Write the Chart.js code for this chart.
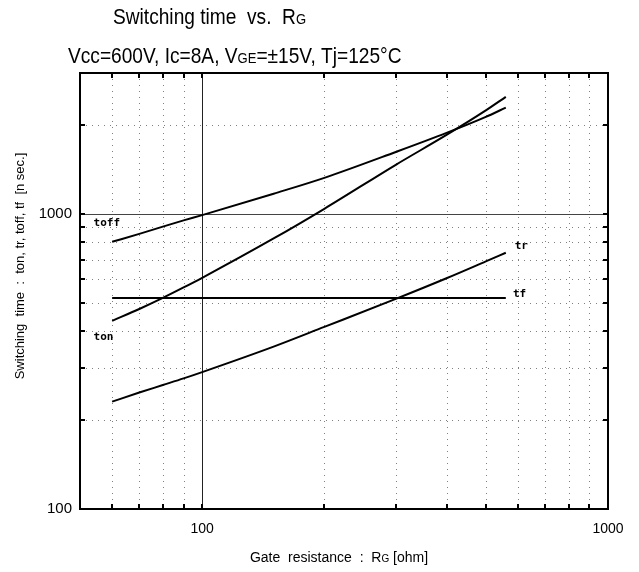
<!DOCTYPE html>
<html>
<head>
<meta charset="utf-8">
<script src="https://cdn.jsdelivr.net/npm/chart.js@4.4.1/dist/chart.umd.min.js"></script>
<style>
  html, body { margin: 0; padding: 0; background: #fff; }
  #wrap { width: 639px; height: 572px; }
</style>
</head>
<body>
<div id="wrap"><canvas id="rg-chart" width="639" height="572"></canvas></div>
<script>
// gate resistance [ohm] and switching times [ns]
const resistance = [60, 70, 80, 90, 100, 150, 200, 300, 400, 500, 560];
const tonValues  = [434, 476, 519, 563, 607, 825, 1040, 1466, 1850, 2240, 2490];
const toffValues = [804, 855, 905, 950, 990, 1170, 1324, 1620, 1880, 2130, 2290];
const trValues   = [231, 248, 263, 277, 291, 355, 414, 515, 605, 690, 738];
const tfValues   = [519, 519, 519, 519, 519, 519, 519, 519, 519, 519, 519];

const xTickLabels = [100, 1000];
const yTickLabels = [100, 1000];
const xGridValues = [60, 70, 80, 90, 200, 300, 400, 500, 600, 700, 800, 900];
const yGridValues = [200, 300, 400, 500, 600, 700, 800, 900, 2000];

// curve name tags: [text, x, y] in data units
const curveTags = [
    ['toff', 54, 932],
    ['ton', 54, 383],
    ['tr', 589, 779],
    ['tf', 583, 535]
];

const FONT = '"Liberation Sans", Arial, sans-serif';

// draws text pieces with mixed sizes, squeezed horizontally like the scanned title
function drawRuns(ctx, x, y, runs, squeeze) {
    const k = squeeze || 1;
    ctx.save();
    ctx.translate(x, y);
    ctx.scale(k, 1);
    ctx.textAlign = 'left';
    ctx.textBaseline = 'alphabetic';
    let cx = 0;
    runs.forEach(([txt, font]) => {
        ctx.font = font;
        ctx.fillText(txt, cx, 0);
        cx += ctx.measureText(txt).width;
    });
    ctx.restore();
}

function runsWidth(ctx, runs) {
    let w = 0;
    runs.forEach(([txt, font]) => { ctx.font = font; w += ctx.measureText(txt).width; });
    return w;
}

const gridPlugin = {
    id: 'datasheetGrid',
    beforeDatasetsDraw(chart) {
        const { ctx, chartArea: a, scales: { x, y } } = chart;
        ctx.save();
        ctx.lineWidth = 1;
        ctx.strokeStyle = '#808080';
        ctx.setLineDash([1, 5]);
        xGridValues.forEach(v => {
            const px = Math.round(x.getPixelForValue(v)) + 0.5;
            ctx.beginPath(); ctx.moveTo(px, a.top); ctx.lineTo(px, a.bottom); ctx.stroke();
        });
        yGridValues.forEach(v => {
            const py = Math.round(y.getPixelForValue(v)) + 0.5;
            ctx.beginPath(); ctx.moveTo(a.left, py); ctx.lineTo(a.right, py); ctx.stroke();
        });
        ctx.setLineDash([]);
        // solid decade lines
        ctx.strokeStyle = '#222';
        const px100 = Math.round(x.getPixelForValue(100)) + 0.5;
        ctx.beginPath(); ctx.moveTo(px100, a.top); ctx.lineTo(px100, a.bottom); ctx.stroke();
        const py1000 = Math.round(y.getPixelForValue(1000)) + 0.5;
        ctx.strokeStyle = '#444';
        ctx.beginPath(); ctx.moveTo(a.left, py1000); ctx.lineTo(a.right, py1000); ctx.stroke();

        // inward tick marks on all four sides
        ctx.strokeStyle = '#000';
        ctx.lineWidth = 2;
        xGridValues.concat([100]).forEach(v => {
            const px = Math.round(x.getPixelForValue(v));
            ctx.beginPath(); ctx.moveTo(px, a.bottom); ctx.lineTo(px, a.bottom - 5); ctx.stroke();
            ctx.beginPath(); ctx.moveTo(px, a.top); ctx.lineTo(px, a.top + 5); ctx.stroke();
        });
        yGridValues.concat([1000]).forEach(v => {
            const py = Math.round(y.getPixelForValue(v));
            ctx.beginPath(); ctx.moveTo(a.left, py); ctx.lineTo(a.left + 5, py); ctx.stroke();
            ctx.beginPath(); ctx.moveTo(a.right, py); ctx.lineTo(a.right - 5, py); ctx.stroke();
        });
        ctx.restore();
    },
    afterDatasetsDraw(chart) {
        const { ctx, chartArea: a, scales: { x, y } } = chart;
        ctx.save();
        // frame
        ctx.strokeStyle = '#000';
        ctx.lineWidth = 2;
        ctx.strokeRect(a.left, a.top, a.right - a.left, a.bottom - a.top);

        // curve tags
        ctx.fillStyle = '#000';
        ctx.font = 'bold 11px "DejaVu Sans Mono", monospace';
        ctx.textAlign = 'left';
        ctx.textBaseline = 'middle';
        curveTags.forEach(([txt, vx, vy]) => {
            ctx.fillText(txt, x.getPixelForValue(vx), y.getPixelForValue(vy));
        });

        // titles
        const big = '22px ' + FONT;
        const small = '15px ' + FONT;
        drawRuns(ctx, 113, 24, [['Switching time  vs.  R', big], ['G', small]], 0.87);
        drawRuns(ctx, 68, 63, [['Vcc=600V, Ic=8A, V', big], ['GE', small], ['=\u00b115V, Tj=125\u00b0C', big]], 0.87);

        // x axis title
        const xRuns = [['Gate  resistance  :  R', '14px ' + FONT], ['G', '10px ' + FONT], [' [ohm]', '14px ' + FONT]];
        const cx = (a.left + a.right) / 2 - 5;
        drawRuns(ctx, cx - runsWidth(ctx, xRuns) / 2, 562, xRuns, 1);

        // y axis title
        ctx.translate(20, 266);
        ctx.rotate(-Math.PI / 2);
        ctx.font = '13px ' + FONT;
        ctx.textAlign = 'center';
        ctx.textBaseline = 'middle';
        ctx.fillText('Switching  time  :  ton, tr, toff, tf  [n sec.]', 0, 0);
        ctx.restore();
    }
};

function line(label, values) {
    return {
        label: label,
        data: resistance.map((r, i) => ({ x: r, y: values[i] })),
        borderColor: '#000',
        borderWidth: 2,
        pointRadius: 0,
        fill: false,
        cubicInterpolationMode: 'monotone'
    };
}

const ctx = document.getElementById('rg-chart').getContext('2d');
new Chart(ctx, {
    type: 'line',
    data: {
        datasets: [
            line('ton', tonValues),
            line('toff', toffValues),
            line('tr', trValues),
            line('tf', tfValues)
        ]
    },
    options: {
        responsive: false,
        animation: false,
        layout: { padding: { left: 0, top: 73, right: 31, bottom: 0 } },
        plugins: {
            legend: { display: false },
            tooltip: { enabled: false }
        },
        scales: {
            x: {
                type: 'logarithmic',
                min: 50,
                max: 1000,
                afterBuildTicks: (scale) => {
                    scale.ticks = xTickLabels.map(v => ({ value: v }));
                },
                afterFit: (scale) => { scale.height = 63; },
                grid: { display: false, drawTicks: false },
                border: { display: false },
                ticks: {
                    autoSkip: false,
                    maxRotation: 0,
                    padding: 12,
                    color: '#000',
                    font: { family: FONT, size: 14 },
                    callback: (v) => String(v)
                }
            },
            y: {
                type: 'logarithmic',
                min: 100,
                max: 3000,
                afterBuildTicks: (scale) => {
                    scale.ticks = yTickLabels.map(v => ({ value: v }));
                },
                afterFit: (scale) => { scale.width = 80; },
                grid: { display: false, drawTicks: false },
                border: { display: false },
                ticks: {
                    autoSkip: false,
                    padding: 8,
                    color: '#000',
                    font: { family: FONT, size: 15 },
                    callback: (v) => String(v)
                }
            }
        }
    },
    plugins: [gridPlugin]
});
</script>
</body>
</html>
